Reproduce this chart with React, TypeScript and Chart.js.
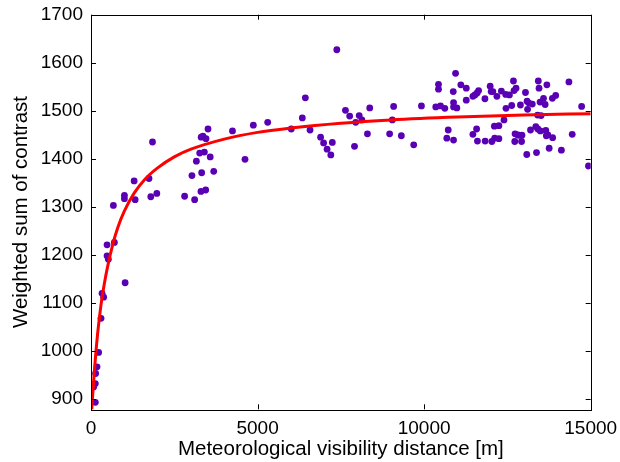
import React, { useEffect, useRef } from "react";
import { Chart, registerables } from "chart.js";

Chart.register(...registerables);

// Meteorological visibility distance [m]
const VIS: number[] = [
  130, 78, 130, 60, 139, 181, 229, 301, 331, 380, 1024, 482, 702, 482, 521, 672, 1003, 1003, 1325, 1295, 1741, 1795, 1976, 1846,
  2810, 3111, 3030, 3163, 3262, 3404, 3578, 3322, 3684, 3301, 3443, 3307, 3361, 3452, 3512, 4247, 4623, 4873, 5304, 6012,
  6343, 6434, 6575, 6892, 6982, 7087, 7199, 7244, 7379, 7638, 7765, 8051, 8132, 7946, 7910, 8298, 8367, 8964, 9045, 9084,
  9316, 9687, 9919,
  10349, 10491, 10621, 10431, 10431, 10723, 10681, 10883, 10874, 10943, 10883, 10883, 10982, 11102, 11265, 11265, 11464,
  11600, 11575, 11464, 11524, 11590, 11635, 11825, 11831, 11982, 12012, 12063, 12184, 12033, 12117, 12244, 12108, 12244,
  12319, 12397, 12457, 12448, 12560, 12629, 12681, 12699, 12759, 12729, 12801, 12849, 12937, 12720, 12925, 12891, 13042,
  13090, 13147, 13247, 13105, 13081, 13193, 13352, 13413, 13488, 13373, 13427, 13449, 13406, 13512, 13479, 13584, 13632,
  13653, 13668, 13713, 13858, 13684, 13753, 13849, 13949, 14120, 14346, 14445, 14728, 14933,
];

// Weighted sum of contrast
const CONTRAST: number[] = [
  893, 925, 932, 930, 953, 967, 997, 1068, 1120, 1112, 1142, 1221, 1226, 1198, 1191, 1303, 1324, 1317, 1315, 1354, 1359, 1321, 1328, 1435,
  1322, 1315, 1365, 1395, 1412, 1414, 1404, 1371, 1374, 1332, 1335, 1445, 1447, 1442, 1462, 1458, 1399, 1470, 1476, 1462,
  1485, 1527, 1460, 1445, 1433, 1420, 1408, 1434, 1627, 1501, 1489, 1490, 1481, 1476, 1426, 1452, 1506, 1452, 1481, 1509,
  1448, 1429, 1510,
  1508, 1510, 1505, 1555, 1545, 1460, 1443, 1439, 1540, 1578, 1517, 1508, 1506, 1554, 1547, 1522, 1451,
  1437, 1462, 1530, 1533, 1537, 1542, 1525, 1437, 1551, 1540, 1540, 1530, 1436, 1443, 1442, 1468, 1469,
  1541, 1481, 1505, 1534, 1533, 1511, 1562, 1542, 1547, 1452, 1450, 1449, 1449, 1436, 1436, 1512, 1538,
  1520, 1516, 1514, 1503, 1409, 1460, 1467, 1462, 1458, 1413, 1562, 1547, 1491, 1490, 1518, 1526, 1513,
  1459, 1448, 1450, 1444, 1554, 1422, 1526, 1532, 1418, 1560, 1451, 1509, 1385,
];

// Fitted curve
const FIT_X: number[] = [20, 60, 100, 150, 200, 300, 400, 500, 650, 800, 1000, 1300, 1600, 2000, 2500, 3000, 4000, 5000, 6000, 7500, 9000, 11000, 13000, 15000];
const FIT_Y: number[] = [876, 918, 957, 1000, 1037, 1096, 1140, 1176, 1221, 1256, 1291, 1329, 1356, 1381, 1404, 1420, 1441, 1455, 1464, 1474, 1481, 1487, 1491, 1494];

const X_TICKS: number[] = [0, 5000, 10000, 15000];
const Y_TICKS: number[] = [900, 1000, 1100, 1200, 1300, 1400, 1500, 1600, 1700];

const X_TITLE = "Meteorological visibility distance [m]";
const Y_TITLE = "Weighted sum of contrast";

const FONT = '"Liberation Sans", Arial, Helvetica, sans-serif';

const framePlugin = {
  id: "matlabFrame",
  afterDatasetsDraw(chart: any) {
    const { ctx, chartArea: a, scales } = chart;
    ctx.save();
    ctx.strokeStyle = "#000";
    ctx.lineWidth = 1;
    const tl = 5;
    ctx.beginPath();
    for (const v of X_TICKS) {
      const px = Math.round(scales.x.getPixelForValue(v)) + 0.5;
      ctx.moveTo(px, a.bottom);
      ctx.lineTo(px, a.bottom - tl);
      ctx.moveTo(px, a.top);
      ctx.lineTo(px, a.top + tl);
    }
    for (const v of Y_TICKS) {
      const py = Math.round(scales.y.getPixelForValue(v)) + 0.5;
      ctx.moveTo(a.left, py);
      ctx.lineTo(a.left + tl, py);
      ctx.moveTo(a.right, py);
      ctx.lineTo(a.right - tl, py);
    }
    ctx.stroke();
    ctx.strokeRect(Math.round(a.left) + 0.5, Math.round(a.top) + 0.5, Math.round(a.right - a.left), Math.round(a.bottom - a.top));
    ctx.restore();
  },
};

export default function App() {
  const ref = useRef<HTMLCanvasElement | null>(null);

  useEffect(() => {
    if (!ref.current) return;
    const points = VIS.map((x, i) => ({ x, y: CONTRAST[i] }));
    const fit = FIT_X.map((x, i) => ({ x, y: FIT_Y[i] }));
    const chart = new Chart(ref.current, {
      type: "scatter",
      data: {
        datasets: [
          {
            label: "fit",
            data: fit,
            showLine: true,
            borderColor: "#ff0000",
            backgroundColor: "#ff0000",
            borderWidth: 3,
            pointRadius: 0,
            cubicInterpolationMode: "monotone",
            order: 0,
          } as any,
          {
            label: "measurements",
            data: points,
            backgroundColor: "#5a00b4",
            borderWidth: 0,
            pointRadius: 3.4,
            order: 1,
          },
        ],
      },
      options: {
        animation: false,
        responsive: false,
        layout: { padding: { left: 0, right: 29.3, top: 14.7, bottom: 0 } },
        plugins: { legend: { display: false }, tooltip: { enabled: false } },
        scales: {
          x: {
            type: "linear",
            min: 0,
            max: 15000,
            grid: { display: false, drawTicks: false },
            border: { display: false },
            afterBuildTicks: (s: any) => {
              s.ticks = X_TICKS.map((v) => ({ value: v }));
            },
            afterFit: (s: any) => {
              s.height = 52.7;
              s.paddingLeft = 0;
              s.paddingRight = 0;
            },
            ticks: {
              font: { family: FONT, size: 19 },
              color: "#000",
              padding: 8,
              maxRotation: 0,
              autoSkip: false,
              callback: (v: any) => String(v),
            },
            title: {
              display: true,
              text: X_TITLE,
              font: { family: FONT, size: 20.5 },
              color: "#000",
              padding: { top: 0, bottom: 0 },
            },
          },
          y: {
            type: "linear",
            min: 878.5,
            max: 1700,
            grid: { display: false, drawTicks: false },
            border: { display: false },
            afterBuildTicks: (s: any) => {
              s.ticks = Y_TICKS.map((v) => ({ value: v }));
            },
            afterFit: (s: any) => {
              s.width = 91;
              s.paddingTop = 0;
              s.paddingBottom = 0;
            },
            ticks: {
              font: { family: FONT, size: 19 },
              color: "#000",
              padding: 8,
              autoSkip: false,
              callback: (v: any) => String(v),
            },
            title: {
              display: true,
              text: Y_TITLE,
              font: { family: FONT, size: 20.5 },
              color: "#000",
              padding: { top: 8.6, bottom: 0 },
            },
          },
        },
      },
      plugins: [framePlugin],
    });
    return () => chart.destroy();
  }, []);

  return (
    <div style={{ position: "fixed", left: 0, top: 0, width: 620, height: 462, background: "#fff" }}>
      <canvas ref={ref} width={620} height={462} style={{ display: "block" }} />
    </div>
  );
}
